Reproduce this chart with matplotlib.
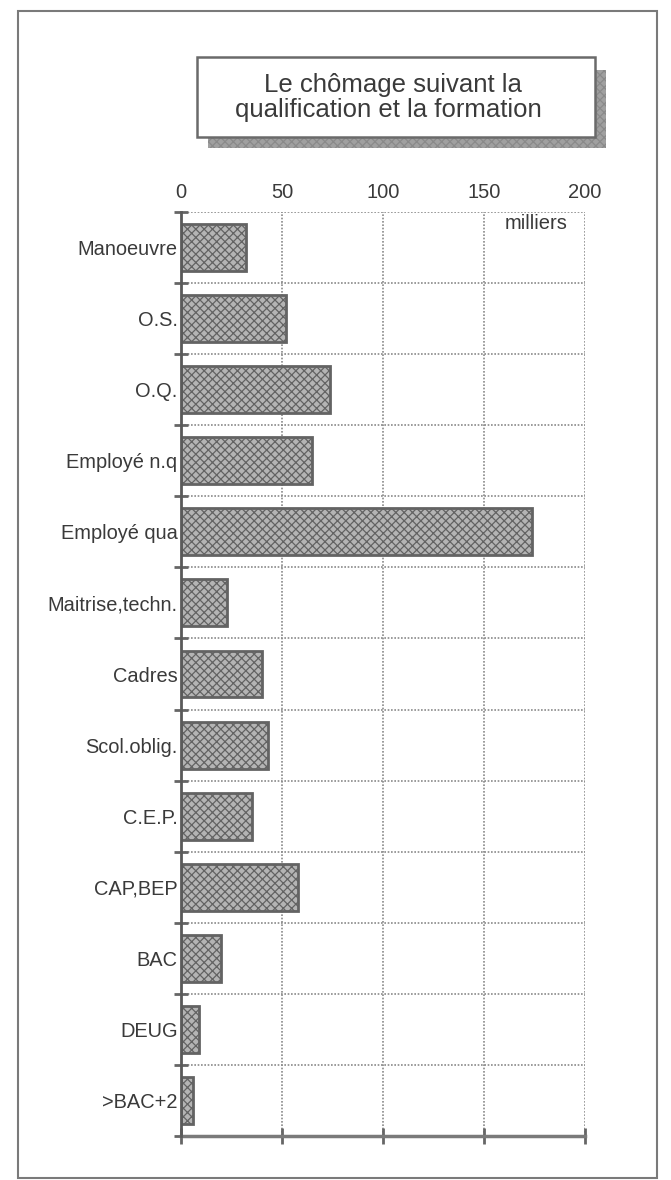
import numpy as np
import matplotlib
matplotlib.use("Agg")
import matplotlib.pyplot as plt
from matplotlib.patches import Rectangle

# Chômeurs par qualification et niveau de formation (milliers)
categories = ["Manoeuvre", "O.S.", "O.Q.", "Employé n.q", "Employé qua",
              "Maitrise,techn.", "Cadres", "Scol.oblig.", "C.E.P.",
              "CAP,BEP", "BAC", "DEUG", ">BAC+2"]
chomeurs = [32, 52, 74, 65, 174, 23, 40, 43, 35, 58, 20, 9, 6]
x_ticks = [0, 50, 100, 150, 200]
title_lines = ["Le chômage suivant la", "qualification et la formation"]
unit_label = "milliers"

plt.rcParams["font.family"] = ["Liberation Sans", "DejaVu Sans"]
TEXT = "#3a3a3a"
GRID = "#8a8a8a"
AXIS = "#666666"

W, H = 671, 1180
fig = plt.figure(figsize=(W / 100, H / 100), dpi=100)


def fx(px):
    return px / W


def fy(py):
    return 1 - py / H


# outer frame of the page
fig.add_artist(Rectangle((fx(18), fy(1178)), fx(657) - fx(18), fy(11) - fy(1178),
                         transform=fig.transFigure, fill=False,
                         edgecolor="#7a7a7a", linewidth=1.5))

# title box with drop shadow
plt.rcParams["hatch.linewidth"] = 0.9
fig.add_artist(Rectangle((fx(208), fy(148)), fx(606) - fx(208), fy(70) - fy(148),
                         transform=fig.transFigure, facecolor="#a0a0a0",
                         edgecolor="#8a8a8a", hatch="xxxx", linewidth=0))
fig.add_artist(Rectangle((fx(197), fy(137)), fx(595) - fx(197), fy(57) - fy(137),
                         transform=fig.transFigure, facecolor="white",
                         edgecolor="#6a6a6a", linewidth=1.8))
fig.text(fx(393), fy(92), title_lines[0], ha="center", va="baseline",
         fontsize=18.5, color=TEXT)
fig.text(fx(388), fy(117), title_lines[1], ha="center", va="baseline",
         fontsize=18.5, color=TEXT)

ax = fig.add_axes([fx(181), fy(1136), (585 - 181) / W, (1136 - 212) / H])

y = np.arange(len(categories))
boundaries = np.arange(len(categories) + 1) - 0.5

# dotted grid: row separators and value lines
ax.hlines(boundaries, x_ticks[0], x_ticks[-1], colors=GRID,
          linestyles=(0, (1, 1)), linewidth=1.2, zorder=1)
for v in x_ticks[1:]:
    ax.axvline(v, color=GRID, linestyle=(0, (1, 1)), linewidth=1.2, zorder=1)

ax.barh(y, chomeurs, height=0.66, left=0, facecolor="#b4b4b4",
        edgecolor="#636363", hatch="xxxx", linewidth=2, zorder=2)

ax.set_xlim(x_ticks[0], x_ticks[-1])
ax.set_ylim(boundaries[-1], boundaries[0])

for side in ("top", "right"):
    ax.spines[side].set_visible(False)
ax.spines["left"].set_color("#5a5a5a")
ax.spines["left"].set_linewidth(2)
ax.spines["left"].set_zorder(4)
ax.spines["bottom"].set_color("#7a7a7a")
ax.spines["bottom"].set_linewidth(2.5)

ax.set_xticks(x_ticks)
ax.set_xticklabels([str(v) for v in x_ticks])
ax.tick_params(axis="x", which="major", bottom=True, top=False,
               labelbottom=False, labeltop=True, direction="inout",
               length=12, width=2, color=AXIS, labelsize=14.5,
               labelcolor=TEXT, pad=1.5)

ax.set_yticks(y)
ax.set_yticklabels(categories)
ax.set_yticks(boundaries, minor=True)
ax.tick_params(axis="y", which="major", length=0, pad=2.5,
               labelsize=14.4, labelcolor=TEXT)
ax.tick_params(axis="y", which="minor", direction="inout", length=10,
               width=2, color=AXIS)

ax.text(0.958, 1 - 11 / 924, unit_label, transform=ax.transAxes,
        ha="right", va="center", fontsize=14.5, color=TEXT)

fig.savefig("out.png", dpi=100)
